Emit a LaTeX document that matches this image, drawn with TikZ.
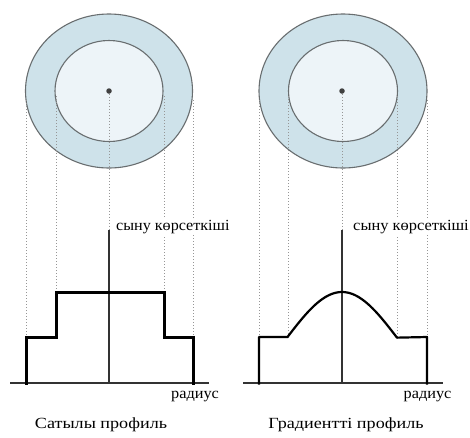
\documentclass[tikz,border=0pt]{standalone}
\usepackage{fontspec}
\setmainfont{Liberation Serif}
\definecolor{outerblue}{RGB}{206,226,234}
\definecolor{innerblue}{RGB}{237,244,248}
\definecolor{rimgray}{RGB}{105,110,112}
\definecolor{guidegray}{RGB}{150,150,150}
\begin{document}
\begin{tikzpicture}[x=1pt,y=-1pt,
  ring/.style={draw=rimgray, line width=1.1pt, fill=outerblue},
  core/.style={draw=rimgray, line width=1.1pt, fill=innerblue},
  guide/.style={draw=guidegray, line width=0.8pt, dash pattern=on 1pt off 2pt},
  axisline/.style={draw=black!80, line width=1.4pt},
  stepline/.style={draw=black, line width=3pt, line join=miter},
  gradline/.style={draw=black, line width=2.2pt, line join=round},
  dotmark/.style={circle, fill=black!75, inner sep=0pt, minimum size=5.5pt},
  axislabel/.style={font=\fontsize{15.5}{18}\selectfont, fill=white, inner sep=1pt},
  caption/.style={font=\fontsize{15.5}{18}\selectfont, inner sep=0pt}]
\useasboundingbox (0,0) rectangle (470,437);
\fill[white] (0,0) rectangle (470,437);

% ---- left fibre ----
\draw[ring] (109,91) ellipse [x radius=83.5, y radius=77];
\draw[core] (109,91) ellipse [x radius=54, y radius=50.5];
\node[dotmark] (cL) at (109,91) {};
\coordinate (axtopL) at (109,230);
\coordinate (axbotL) at (109,383);
\draw[guide] (26,100) -- (26,337);
\draw[guide] (56,96) -- (56,292);
\draw[guide] (164,96) -- (164,292);
\draw[guide] (193,100) -- (193,337);
\draw[guide] (cL) -- (axtopL);
\node[axislabel, anchor=west] (nL) at (115,227) {\scalebox{1.04}[1]{сыну көрсеткіші}};
\coordinate (xl0) at (10,383);
\coordinate (xl1) at (209,383);
\draw[axisline] (xl0) -- (xl1);
\draw[axisline] (axtopL) -- (axbotL);
\draw[stepline] (26,384.5) -- (26,337) -- (56,337) -- (56,292) -- (164,292) -- (164,337) -- (193,337) -- (193,384.5);
\node[caption] (rL) at (195,397) {\scalebox{1.05}[1]{радиус}};
\node[caption] (tL) at (101,425) {\scalebox{1.17}[1]{Сатылы профиль}};

% ---- right fibre ----
\draw[ring] (343,91) ellipse [x radius=84, y radius=77];
\draw[core] (343,91) ellipse [x radius=54.5, y radius=50.5];
\node[dotmark] (cR) at (342,91) {};
\coordinate (axtopR) at (342,230);
\coordinate (axbotR) at (342,383);
\draw[guide] (259,100) -- (259,337);
\draw[guide] (288,96) -- (288,337);
\draw[guide] (397,96) -- (397,337);
\draw[guide] (427,100) -- (427,337);
\draw[guide] (cR) -- (axtopR);
\node[axislabel, anchor=west] (nR) at (352,227) {\scalebox{1.06}[1]{сыну көрсеткіші}};
\coordinate (xr0) at (243,383);
\coordinate (xr1) at (443,383);
\draw[axisline] (xr0) -- (xr1);
\draw[axisline] (axtopR) -- (axbotR);
\draw[gradline] (259,384.5) -- (259,337) -- (288,337)
  -- plot[domain=-54:55, samples=60, smooth] ({342+\x}, {337-45*cos(90*\x/54.5)})
  -- (427,337) -- (427,384.5);
\node[caption] (rR) at (427.5,397) {\scalebox{1.05}[1]{радиус}};
\node[caption] (tR) at (346,425) {\scalebox{1.17}[1]{Градиентті профиль}};
\end{tikzpicture}
\end{document}
